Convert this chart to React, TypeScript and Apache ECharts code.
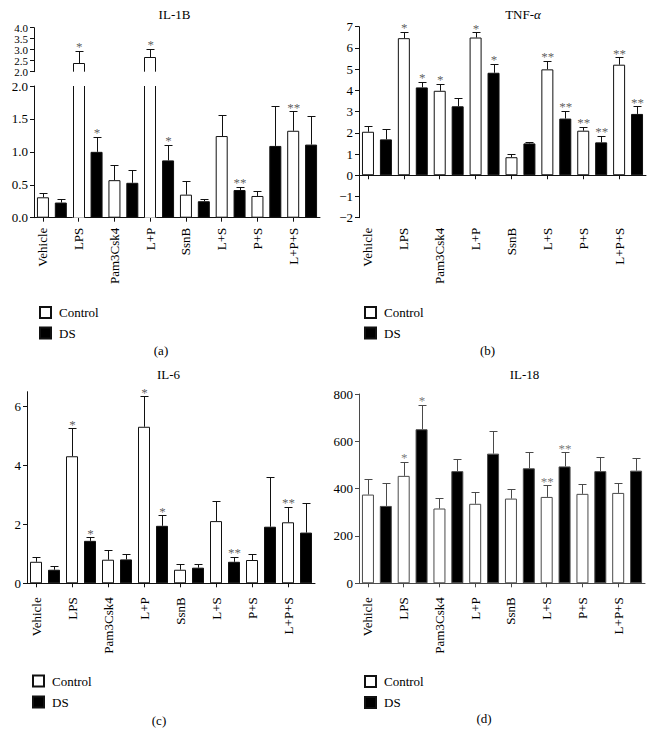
import React, { useEffect, useRef } from 'react';
import * as echarts from 'echarts';

const FONT = 'Liberation Serif, DejaVu Serif, serif';

// ---------- data ----------
const categories = ['Vehicle', 'LPS', 'Pam3Csk4', 'L+P', 'SsnB', 'L+S', 'P+S', 'L+P+S'];
const seriesNames = ['Control', 'DS'];

// IL-1B (a)
const il1bControl = [0.31, 2.38, 0.57, 2.65, 0.35, 1.24, 0.33, 1.32];
const il1bControlUpper = [0.37, 2.95, 0.8, 3.05, 0.55, 1.56, 0.41, 1.62];
const il1bDS = [0.23, 1.0, 0.53, 0.87, 0.25, 0.42, 1.09, 1.11];
const il1bDSUpper = [0.29, 1.23, 0.73, 1.11, 0.29, 0.47, 1.69, 1.54];
const il1bControlSig = ['', '*', '', '*', '', '', '', '**'];
const il1bDSSig = ['', '*', '', '*', '', '**', '', ''];

// TNF-α (b)
const tnfControl = [2.05, 6.46, 3.98, 6.49, 0.85, 4.99, 2.1, 5.21];
const tnfControlUpper = [2.3, 6.76, 4.31, 6.75, 1.0, 5.39, 2.29, 5.55];
const tnfDS = [1.69, 4.14, 3.25, 4.83, 1.5, 2.67, 1.55, 2.89];
const tnfDSUpper = [2.16, 4.41, 3.63, 5.26, 1.56, 3.03, 1.86, 3.24];
const tnfControlSig = ['', '*', '*', '*', '', '**', '**', '**'];
const tnfDSSig = ['', '*', '', '*', '', '**', '**', '**'];

// IL-6 (c)
const il6Control = [0.73, 4.31, 0.8, 5.31, 0.46, 2.11, 0.79, 2.07];
const il6ControlUpper = [0.9, 5.26, 1.14, 6.35, 0.64, 2.8, 0.98, 2.6];
const il6DS = [0.46, 1.44, 0.81, 1.95, 0.53, 0.73, 1.92, 1.72];
const il6DSUpper = [0.57, 1.57, 1.0, 2.31, 0.64, 0.9, 3.6, 2.71];
const il6ControlSig = ['', '*', '', '*', '', '', '', '**'];
const il6DSSig = ['', '*', '', '*', '', '**', '', ''];

// IL-18 (d)
const il18Control = [375, 454, 316, 336, 358, 365, 378, 382];
const il18ControlUpper = [439, 514, 361, 387, 399, 415, 418, 422];
const il18DS = [327, 651, 474, 548, 486, 494, 474, 476];
const il18DSUpper = [422, 754, 527, 645, 553, 553, 535, 529];
const il18ControlSig = ['', '*', '', '', '', '**', '', ''];
const il18DSSig = ['', '*', '', '', '', '**', '', ''];

// tick labels
const il1bBreak = 2;
const il1bTopMajorTicks = [2, 3, 4];
const il1bTopMinorTicks = [2.5, 3.5];
const il1bTopRange = { min: 2, max: 4 };
const il1bBottomTicks = { min: 0, max: 2, interval: 0.5 };
const tnfTicks = { min: -2, max: 7, interval: 1 };
const il6TickValues = [0, 2, 4, 6];
const il6Max = 6.5;
const il18Ticks = { min: 0, max: 800, interval: 200 };

// ---------- helpers ----------
const BAR_W = 12;
const slots: string[] = categories.flatMap((c) => [c + '|C', c + '|D']);

const slotValues = (vals: number[], odd: boolean, breakAt?: number) =>
  slots.map((_, i) => {
    if ((i % 2 === 1) !== odd) return '-';
    const v = vals[Math.floor(i / 2)];
    if (breakAt !== undefined && v >= breakAt) return { value: v, itemStyle: { borderWidth: 0 } };
    return v;
  });

type ErrItem = { slot: number; mean: number; upper: number; sig: string };

const errItems = (
  c: number[], cu: number[], cs: string[],
  d: number[], du: number[], ds: string[],
  filter: (m: number) => boolean = () => true
): ErrItem[] => {
  const out: ErrItem[] = [];
  categories.forEach((_, i) => {
    if (filter(c[i])) out.push({ slot: 2 * i, mean: c[i], upper: cu[i], sig: cs[i] });
    if (filter(d[i])) out.push({ slot: 2 * i + 1, mean: d[i], upper: du[i], sig: ds[i] });
  });
  return out;
};

const makeErrSeries = (g: number, items: ErrItem[], color: string, starColor: string) => {
  const sigItems = items.filter((it) => it.sig);
  return [
    {
      type: 'custom',
      name: 'err' + g,
      xAxisIndex: g,
      yAxisIndex: g,
      clip: false,
      z: 5,
      encode: { x: 0, y: [1, 2] },
      data: items.map((it) => [it.slot, it.mean, it.upper]),
      renderItem: (params: any, api: any) => {
        const base = api.coord([api.value(0), api.value(1)]);
        const top = api.coord([api.value(0), api.value(2)]);
        const x = Math.round(base[0]) + 0.5;
        const ty = Math.round(top[1]) + 0.5;
        return {
          type: 'group',
          children: [
            { type: 'line', shape: { x1: x, y1: base[1], x2: x, y2: ty }, style: { stroke: color, lineWidth: 1 } },
            { type: 'line', shape: { x1: x - 4, y1: ty, x2: x + 4, y2: ty }, style: { stroke: color, lineWidth: 1 } },
          ],
        };
      },
    },
    {
      type: 'scatter',
      name: 'sig' + g,
      xAxisIndex: g,
      yAxisIndex: g,
      z: 6,
      symbolSize: 1,
      itemStyle: { color: 'rgba(0,0,0,0)' },
      data: sigItems.map((it) => [it.slot, it.upper]),
      label: {
        show: true,
        position: 'top',
        distance: 0,
        offset: [0.5, 3],
        color: starColor,
        fontFamily: FONT,
        fontSize: 13,
        lineHeight: 13,
        formatter: (p: any) => sigItems[p.dataIndex].sig,
      },
    },
  ];
};

// outlines for bars that cross the axis break of panel (a)
const makeBreakOutline = (g: number, vals: number[], odd: boolean, upper: boolean, color: string) => {
  const items = vals
    .map((v, i) => ({ slot: 2 * i + (odd ? 1 : 0), v }))
    .filter((it) => it.v >= il1bBreak);
  return {
    type: 'custom',
    name: 'outline' + g,
    xAxisIndex: g,
    yAxisIndex: g,
    clip: false,
    z: 4,
    encode: { x: 0, y: 1 },
    data: items.map((it) => [it.slot, it.v]),
    renderItem: (params: any, api: any) => {
      const slot = api.value(0);
      const v = api.value(1);
      const cx = api.coord([slot, il1bBreak])[0];
      const xl = Math.round(cx - BAR_W / 2) + 0.5;
      const xr = Math.round(cx + BAR_W / 2) - 0.5;
      const cs = params.coordSys;
      let y1: number;
      let y2: number;
      const children: any[] = [];
      if (upper) {
        y1 = Math.round(api.coord([slot, v])[1]) + 0.5;
        y2 = cs.y + cs.height;
        children.push({ type: 'line', shape: { x1: xl, y1, x2: xr, y2: y1 }, style: { stroke: color, lineWidth: 1 } });
      } else {
        y1 = cs.y;
        y2 = api.coord([slot, 0])[1];
      }
      children.push({ type: 'line', shape: { x1: xl, y1, x2: xl, y2 }, style: { stroke: color, lineWidth: 1 } });
      children.push({ type: 'line', shape: { x1: xr, y1, x2: xr, y2 }, style: { stroke: color, lineWidth: 1 } });
      return { type: 'group', children };
    },
  };
};

const makeBars = (g: number, c: number[], d: number[], line: string, breakAt?: number) => [
  {
    type: 'bar',
    name: 'Control',
    xAxisIndex: g,
    yAxisIndex: g,
    barWidth: BAR_W,
    barGap: '-100%',
    clip: true,
    data: slotValues(c, false, breakAt),
    itemStyle: { color: '#ffffff', borderColor: line, borderWidth: 1 },
  },
  {
    type: 'bar',
    name: 'DS',
    xAxisIndex: g,
    yAxisIndex: g,
    barWidth: BAR_W,
    barGap: '-100%',
    clip: true,
    data: slotValues(d, true, breakAt),
    itemStyle: { color: '#000000', borderColor: line, borderWidth: 1 },
  },
];

const makeXAxis = (g: number, line: string, margin: number, show = true) => ({
  type: 'category',
  gridIndex: g,
  data: slots,
  show,
  boundaryGap: true,
  axisLine: { show: true, lineStyle: { color: line, width: 1 } },
  axisTick: {
    show: true,
    alignWithLabel: true,
    interval: (index: number) => index % 2 === 0,
    length: 4,
    lineStyle: { color: line, width: 1 },
  },
  axisLabel: {
    interval: 0,
    rotate: 90,
    margin,
    color: '#000',
    fontFamily: FONT,
    fontSize: 13,
    formatter: (v: string) => (v.endsWith('|C') ? v.slice(0, -2) : ''),
  },
  splitLine: { show: false },
});

const makeYAxis = (g: number, line: string, extra: any) => ({
  type: 'value',
  gridIndex: g,
  axisLine: { show: true, lineStyle: { color: line, width: 1 } },
  axisTick: { show: true, length: 4, lineStyle: { color: line, width: 1 } },
  splitLine: { show: false },
  ...extra,
  axisLabel: {
    color: '#000',
    fontFamily: FONT,
    fontSize: 13,
    margin: 6,
    showMinLabel: true,
    showMaxLabel: true,
    hideOverlap: false,
    ...(extra.axisLabel || {}),
  },
});

const legendAt = (left: number, top: number, gap: number) => ({
  left,
  top,
  orient: 'vertical',
  icon: 'rect',
  itemWidth: 11,
  itemHeight: 11,
  itemGap: gap,
  selectedMode: false,
  data: seriesNames,
  textStyle: { fontFamily: FONT, fontSize: 13, color: '#000', padding: [0, 0, 0, 3] },
});

const textEl = (x: number, y: number, text: string, rich?: any) => ({
  type: 'text',
  x,
  y,
  style: {
    text,
    fill: '#000',
    font: '13px ' + FONT,
    textAlign: 'center',
    textVerticalAlign: 'middle',
    ...(rich ? { rich } : {}),
  },
});

const fmt1 = (v: number) => Number(v).toFixed(1);
const fmtMinus = (v: number) => (v < 0 ? '\u2212' + Math.abs(v) : String(v));

export default function App() {
  const ref = useRef<HTMLDivElement>(null);

  useEffect(() => {
    if (!ref.current) return;
    const chart = echarts.init(ref.current, undefined, { renderer: 'svg' });
    const K = '#111';
    const G = '#4a4a4a';
    const topLabel = { formatter: fmt1, fontSize: 11, lineHeight: 10 };

    const option: any = {
      animation: false,
      backgroundColor: '#ffffff',
      textStyle: { fontFamily: FONT },
      grid: [
        { left: 34, top: 27.7, width: 286, height: 44 },
        { left: 34, top: 86, width: 286, height: 131.7 },
        { left: 359, top: 26.7, width: 287, height: 191 },
        { left: 27, top: 391.7, width: 288, height: 191.6 },
        { left: 359, top: 394, width: 286, height: 189.3 },
      ],
      xAxis: [
        makeXAxis(0, K, 10, false),
        makeXAxis(1, K, 10),
        makeXAxis(2, K, 10),
        makeXAxis(3, K, 14),
        makeXAxis(4, G, 14),
      ],
      yAxis: [
        makeYAxis(0, K, {
          ...il1bTopRange,
          axisTick: {
            show: true,
            length: 4,
            lineStyle: { color: K, width: 1 },
            customValues: [...il1bTopMajorTicks, ...il1bTopMinorTicks],
          },
          axisLabel: { ...topLabel, customValues: il1bTopMajorTicks },
        }),
        makeYAxis(1, K, { ...il1bBottomTicks, axisLabel: { formatter: fmt1 } }),
        makeYAxis(2, K, { ...tnfTicks, axisLabel: { formatter: fmtMinus } }),
        makeYAxis(3, K, {
          min: 0,
          max: il6Max,
          axisTick: { show: true, length: 4, lineStyle: { color: K, width: 1 }, customValues: il6TickValues },
          axisLabel: { customValues: il6TickValues },
        }),
        makeYAxis(4, G, { ...il18Ticks }),
        // second label layer for the compressed upper segment of (a)
        makeYAxis(0, K, {
          ...il1bTopRange,
          position: 'left',
          axisLine: { show: false },
          axisTick: { show: false },
          axisLabel: { ...topLabel, customValues: il1bTopMinorTicks },
        }),
      ],
      legend: [
        legendAt(34, 301, 7.5),
        legendAt(359, 301, 7.5),
        legendAt(27, 669.5, 8),
        legendAt(359, 670, 8),
      ],
      graphic: [
        textEl(174.5, 14, 'IL-1B'),
        textEl(523, 14, 'TNF-{i|\u03b1}', { i: { fontStyle: 'italic', fontFamily: FONT, fontSize: 13 } }),
        textEl(168.5, 374.5, 'IL-6'),
        textEl(524.5, 374.5, 'IL-18'),
        textEl(161, 350.5, '(a)'),
        textEl(487.5, 350.5, '(b)'),
        textEl(159, 720, '(c)'),
        textEl(484, 718.5, '(d)'),
      ],
      series: [
        // (a) top
        ...makeBars(0, il1bControl, il1bDS, K, il1bBreak),
        makeBreakOutline(0, il1bControl, false, true, K),
        ...makeErrSeries(
          0,
          errItems(il1bControl, il1bControlUpper, il1bControlSig, il1bDS, il1bDSUpper, il1bDSSig, (m) => m >= il1bBreak),
          K,
          '#333'
        ),
        // (a) bottom
        ...makeBars(1, il1bControl, il1bDS, K, il1bBreak),
        makeBreakOutline(1, il1bControl, false, false, K),
        ...makeErrSeries(
          1,
          errItems(il1bControl, il1bControlUpper, il1bControlSig, il1bDS, il1bDSUpper, il1bDSSig, (m) => m < il1bBreak),
          K,
          '#333'
        ),
        // (b)
        ...(() => {
          const [c, d] = makeBars(2, tnfControl, tnfDS, K);
          (c as any).markLine = {
            silent: true,
            symbol: ['none', 'none'],
            label: { show: false },
            lineStyle: { color: K, type: 'solid', width: 1 },
            data: [{ yAxis: 0 }],
          };
          return [c, d];
        })(),
        ...makeErrSeries(
          2,
          errItems(tnfControl, tnfControlUpper, tnfControlSig, tnfDS, tnfDSUpper, tnfDSSig),
          K,
          '#333'
        ),
        // (c)
        ...makeBars(3, il6Control, il6DS, K),
        ...makeErrSeries(
          3,
          errItems(il6Control, il6ControlUpper, il6ControlSig, il6DS, il6DSUpper, il6DSSig),
          K,
          '#333'
        ),
        // (d)
        ...makeBars(4, il18Control, il18DS, G),
        ...makeErrSeries(
          4,
          errItems(il18Control, il18ControlUpper, il18ControlSig, il18DS, il18DSUpper, il18DSSig),
          G,
          '#555'
        ),
      ],
    };

    chart.setOption(option);
    return () => chart.dispose();
  }, []);

  return (
    <div
      ref={ref}
      style={{ position: 'absolute', left: 0, top: 0, width: 654, height: 745, background: '#fff' }}
    />
  );
}
